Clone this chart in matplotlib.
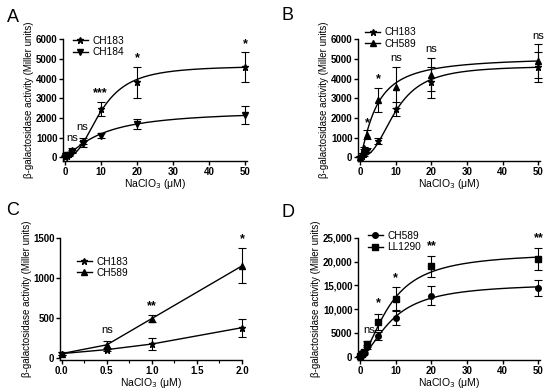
import matplotlib
matplotlib.use("Agg")
import matplotlib.pyplot as plt
from matplotlib.ticker import FormatStrFormatter, MultipleLocator
import numpy as np

plt.rcParams['font.family'] = ['Liberation Sans', 'DejaVu Sans']

# concentrations (uM)
conc = [0, 0.5, 1, 2, 5, 10, 20, 50]
conc_c = [0, 0.5, 1, 2]

# panel A / B data
ch183 = [50, 100, 170, 375, 850, 2450, 3800, 4580]
ch183_err = [15, 20, 70, 115, 150, 350, 800, 750]
ch184 = [100, 120, 150, 300, 700, 1100, 1700, 2150]
ch184_err = [20, 30, 40, 60, 150, 130, 250, 450]
ch589 = [50, 160, 490, 1150, 2900, 3550, 4200, 4900]
ch589_err = [15, 50, 40, 220, 600, 1050, 850, 850]

# panel C data
ch183_c = [50, 100, 170, 375]
ch183_c_err = [15, 20, 70, 115]
ch589_c = [50, 160, 490, 1150]
ch589_c_err = [15, 50, 40, 220]

# panel D data
ch589_d = [100, 300, 800, 2000, 4400, 8100, 12800, 14500]
ch589_d_err = [50, 100, 200, 400, 900, 1500, 2000, 1700]
ll1290 = [100, 500, 1000, 2700, 7300, 12200, 19000, 20500]
ll1290_err = [50, 150, 300, 600, 1700, 2400, 2200, 2300]

# Hill fit parameters: baseline, Vmax, K, n
fit_ch183 = [50, 4650, 10, 2.5]
fit_ch184 = [80, 2400, 10.5, 1.3]
fit_ch589 = [50, 5100, 4.5, 1.3]
fit_ch589_d = [100, 15500, 9, 1.7]
fit_ll1290 = [100, 22000, 8.5, 1.7]

# significance labels
sig_a = [(2, 1000, "ns"), (4.7, 1550, "ns"), (9.7, 3250, "***"), (20, 5050, "*"), (50, 5750, "*")]
sig_b = [(2, 1750, "*"), (5, 3950, "*"), (10, 5050, "ns"), (20, 5500, "ns"), (50, 6150, "ns")]
sig_c = [(0.5, 340, "ns"), (1.0, 650, "**"), (2.0, 1490, "*")]
sig_d = [(2.5, 5700, "ns"), (5, 11300, "*"), (10, 16600, "*"), (20, 23300, "**"), (50, 25000, "**")]


def hill(x, p):
    b, vmax, k, n = p
    return b + (vmax - b) * x ** n / (k ** n + x ** n)


def series(ax, x, y, err, marker, label, fit=None, ms=4):
    if fit is None:
        ax.plot(x, y, color='black', lw=1)
    else:
        xs = np.linspace(0, max(x), 300)
        ax.plot(xs, hill(xs, fit), color='black', lw=1)
    ax.errorbar(x, y, yerr=err, fmt=marker, color='black', ms=ms,
                capsize=3, elinewidth=0.8, capthick=0.8, clip_on=False)
    ax.plot([], [], marker=marker, color='black', ms=ms, lw=1, label=label)


def style(ax, xlim, ylim, xticks, yticks, leg_xy, yfmt=None):
    ax.set_xlim(*xlim)
    ax.set_ylim(*ylim)
    ax.set_xticks(xticks)
    ax.set_yticks(yticks)
    if yfmt:
        ax.set_yticklabels([yfmt(v) for v in yticks])
    for s in ['top', 'right']:
        ax.spines[s].set_visible(False)
    for s in ['left', 'bottom']:
        ax.spines[s].set_linewidth(1)
    ax.tick_params(direction='out', length=3, width=1, labelsize=7, pad=1)
    ax.tick_params(which='minor', direction='out', length=2, width=0.8)
    for t in ax.get_xticklabels() + ax.get_yticklabels():
        t.set_fontweight('bold')
    ax.set_xlabel("NaClO$_3$ (μM)", fontsize=7.5, labelpad=0.5)
    ax.set_ylabel("β-galactosidase activity (Miller units)", fontsize=7, labelpad=1)
    ax.legend(loc='center left', bbox_to_anchor=leg_xy, frameon=False, fontsize=7.3,
              handlelength=1.45, labelspacing=0.15, borderpad=0, borderaxespad=0,
              handletextpad=0.45)


def annotate(ax, items):
    for x, y, s in items:
        ax.text(x, y, s, ha='center', va='center', fontsize=8 if s == "ns" else 9,
                fontweight='normal' if s == "ns" else 'bold')


fig = plt.figure(figsize=(5.5, 3.89), dpi=100)

axA = fig.add_axes([0.1145, 0.586, 0.3345, 0.3136])
series(axA, conc, ch183, ch183_err, '*', "CH183", fit_ch183, ms=5)
series(axA, conc, ch184, ch184_err, 'v', "CH184", fit_ch184)
style(axA, (-0.6, 50.5), (-180, 6000), [0, 10, 20, 30, 40, 50],
      [0, 1000, 2000, 3000, 4000, 5000, 6000], (0.054, 0.94))
annotate(axA, sig_a)

axB = fig.add_axes([0.651, 0.586, 0.331, 0.3136])
series(axB, conc, ch183, ch183_err, '*', "CH183", fit_ch183, ms=5)
series(axB, conc, ch589, ch589_err, '^', "CH589", fit_ch589)
style(axB, (-0.6, 50.5), (-180, 6000), [0, 10, 20, 30, 40, 50],
      [0, 1000, 2000, 3000, 4000, 5000, 6000], (0.04, 1.01))
annotate(axB, sig_b)

axC = fig.add_axes([0.109, 0.0746, 0.331, 0.3136])
series(axC, conc_c, ch183_c, ch183_c_err, '*', "CH183", ms=5)
series(axC, conc_c, ch589_c, ch589_c_err, '^', "CH589")
style(axC, (-0.02, 2.0), (-30, 1500), [0.0, 0.5, 1.0, 1.5, 2.0],
      [0, 500, 1000, 1500], (0.093, 0.76))
axC.xaxis.set_major_formatter(FormatStrFormatter('%.1f'))
axC.xaxis.set_minor_locator(MultipleLocator(0.25))
for t in axC.get_xticklabels():
    t.set_fontweight('bold')
annotate(axC, sig_c)

axD = fig.add_axes([0.651, 0.0746, 0.331, 0.3136])
series(axD, conc, ch589_d, ch589_d_err, 'o', "CH589", fit_ch589_d)
series(axD, conc, ll1290, ll1290_err, 's', "LL1290", fit_ll1290)
style(axD, (-0.6, 50.5), (-700, 25000), [0, 10, 20, 30, 40, 50],
      [0, 5000, 10000, 15000, 20000, 25000], (0.055, 0.97),
      yfmt=lambda v: f"{v:,}" if v >= 10000 else str(v))
annotate(axD, sig_d)

for lab, x, y in [("A", 0.012, 0.955), ("B", 0.512, 0.96), ("C", 0.012, 0.46), ("D", 0.512, 0.455)]:
    fig.text(x, y, lab, fontsize=13, va='center')

fig.savefig("out.png", dpi=100)
